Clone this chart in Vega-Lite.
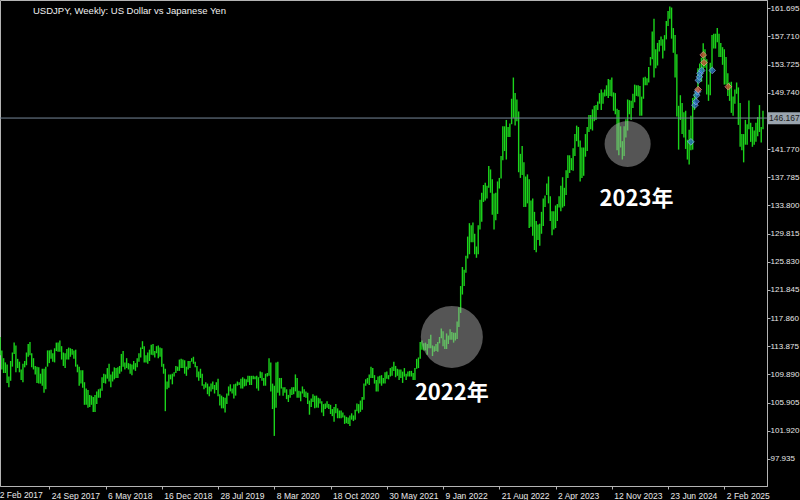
{
"$schema": "https://vega.github.io/schema/vega-lite/v6.json",
"autosize": {"type": "none"},
"width": 767,
"height": 486,
"padding": {"left": 0, "top": 0, "right": 33, "bottom": 14},
"background": "black",
"config": {
  "view": {"fill": "black", "stroke": "#b4b4b4", "strokeWidth": 1},
  "axis": {"grid": false, "domainColor": "#b4b4b4", "tickColor": "#b4b4b4", "labelColor": "#e8e8e8", "labelFont": "Liberation Sans", "labelFontSize": 8.5, "tickSize": 3, "title": null, "labelOverlap": false, "labelFlush": false, "labelBound": false}
},
"title": {"text": "USDJPY, Weekly:  US Dollar vs Japanese Yen", "anchor": "start", "frame": "group", "orient": "top", "offset": -12, "dx": 33, "dy": 11, "baseline": "alphabetic", "fontSize": 9.5, "font": "Liberation Sans", "fontWeight": "normal", "color": "#f0f0f0"},
"datasets": {
"one": [{"k": 1}],
"bars": [
{"d":"2017-03-05","h":115.5,"l":113.7},{"d":"2017-03-12","h":115.2,"l":112.6},{"d":"2017-03-19","h":113.3,"l":110.6},{"d":"2017-03-26","h":112.2,"l":110.1},
{"d":"2017-04-02","h":111.6,"l":110.1},{"d":"2017-04-09","h":111.3,"l":108.7},{"d":"2017-04-16","h":109.6,"l":108.1},{"d":"2017-04-23","h":111.8,"l":109.0},{"d":"2017-04-30","h":113.0,"l":111.0},
{"d":"2017-05-07","h":114.4,"l":112.8},{"d":"2017-05-14","h":114.0,"l":110.2},{"d":"2017-05-21","h":112.1,"l":110.8},{"d":"2017-05-28","h":111.7,"l":110.2},
{"d":"2017-06-04","h":110.6,"l":109.1},{"d":"2017-06-11","h":111.4,"l":108.8},{"d":"2017-06-18","h":111.8,"l":110.9},{"d":"2017-06-25","h":113.0,"l":111.2},
{"d":"2017-07-02","h":114.2,"l":112.4},{"d":"2017-07-09","h":114.5,"l":112.6},{"d":"2017-07-16","h":112.9,"l":110.9},{"d":"2017-07-23","h":112.2,"l":110.6},{"d":"2017-07-30","h":111.1,"l":109.9},
{"d":"2017-08-06","h":111.0,"l":108.7},{"d":"2017-08-13","h":110.9,"l":108.6},{"d":"2017-08-20","h":110.0,"l":108.6},{"d":"2017-08-27","h":110.7,"l":108.3},
{"d":"2017-09-03","h":110.7,"l":107.3},{"d":"2017-09-10","h":111.0,"l":107.8},{"d":"2017-09-17","h":113.3,"l":111.0},{"d":"2017-09-24","h":113.3,"l":111.5},
{"d":"2017-10-01","h":113.4,"l":112.1},{"d":"2017-10-08","h":112.9,"l":111.7},{"d":"2017-10-15","h":113.6,"l":111.6},{"d":"2017-10-22","h":114.4,"l":113.2},{"d":"2017-10-29","h":114.4,"l":113.1},
{"d":"2017-11-05","h":114.7,"l":113.1},{"d":"2017-11-12","h":113.9,"l":112.0},{"d":"2017-11-19","h":113.0,"l":111.1},{"d":"2017-11-26","h":112.9,"l":110.8},
{"d":"2017-12-03","h":113.5,"l":112.0},{"d":"2017-12-10","h":113.7,"l":112.0},{"d":"2017-12-17","h":113.6,"l":112.4},{"d":"2017-12-24","h":113.5,"l":112.7},{"d":"2017-12-31","h":113.3,"l":112.1},
{"d":"2018-01-07","h":113.4,"l":111.0},{"d":"2018-01-14","h":111.3,"l":110.2},{"d":"2018-01-21","h":111.0,"l":108.3},{"d":"2018-01-28","h":110.5,"l":108.6},
{"d":"2018-02-04","h":110.5,"l":108.0},{"d":"2018-02-11","h":108.8,"l":105.6},{"d":"2018-02-18","h":107.9,"l":105.6},{"d":"2018-02-25","h":107.7,"l":105.2},
{"d":"2018-03-04","h":107.0,"l":105.3},{"d":"2018-03-11","h":106.9,"l":105.6},{"d":"2018-03-18","h":106.7,"l":104.6},{"d":"2018-03-25","h":107.0,"l":104.6},
{"d":"2018-04-01","h":107.5,"l":105.7},{"d":"2018-04-08","h":107.8,"l":106.6},{"d":"2018-04-15","h":107.9,"l":106.6},{"d":"2018-04-22","h":109.5,"l":107.6},{"d":"2018-04-29","h":110.0,"l":108.7},
{"d":"2018-05-06","h":109.9,"l":108.6},{"d":"2018-05-13","h":110.8,"l":109.3},{"d":"2018-05-20","h":111.4,"l":108.9},{"d":"2018-05-27","h":109.9,"l":108.1},
{"d":"2018-06-03","h":110.3,"l":108.9},{"d":"2018-06-10","h":110.9,"l":109.2},{"d":"2018-06-17","h":110.8,"l":109.4},{"d":"2018-06-24","h":110.9,"l":109.4},
{"d":"2018-07-01","h":111.1,"l":110.0},{"d":"2018-07-08","h":112.8,"l":110.3},{"d":"2018-07-15","h":113.2,"l":111.0},{"d":"2018-07-22","h":111.6,"l":110.6},{"d":"2018-07-29","h":112.2,"l":110.8},
{"d":"2018-08-05","h":111.5,"l":110.6},{"d":"2018-08-12","h":111.4,"l":110.0},{"d":"2018-08-19","h":111.3,"l":109.8},{"d":"2018-08-26","h":111.8,"l":110.6},
{"d":"2018-09-02","h":111.5,"l":110.4},{"d":"2018-09-09","h":112.2,"l":110.9},{"d":"2018-09-16","h":112.9,"l":111.7},{"d":"2018-09-23","h":113.7,"l":112.3},{"d":"2018-09-30","h":114.6,"l":113.5},
{"d":"2018-10-07","h":113.9,"l":111.6},{"d":"2018-10-14","h":112.6,"l":111.6},{"d":"2018-10-21","h":113.0,"l":111.4},{"d":"2018-10-28","h":113.4,"l":111.8},
{"d":"2018-11-04","h":114.1,"l":112.7},{"d":"2018-11-11","h":114.2,"l":112.6},{"d":"2018-11-18","h":113.2,"l":112.3},{"d":"2018-11-25","h":113.9,"l":112.9},
{"d":"2018-12-02","h":114.0,"l":112.2},{"d":"2018-12-09","h":113.7,"l":112.4},{"d":"2018-12-16","h":113.6,"l":111.0},{"d":"2018-12-23","h":111.4,"l":110.0},{"d":"2018-12-30","h":110.7,"l":104.7},
{"d":"2019-01-06","h":108.9,"l":107.8},{"d":"2019-01-13","h":109.9,"l":108.0},{"d":"2019-01-20","h":109.9,"l":109.2},{"d":"2019-01-27","h":110.0,"l":108.5},
{"d":"2019-02-03","h":110.2,"l":109.6},{"d":"2019-02-10","h":111.1,"l":110.1},{"d":"2019-02-17","h":111.0,"l":110.4},{"d":"2019-02-24","h":112.0,"l":110.4},
{"d":"2019-03-03","h":112.1,"l":110.8},{"d":"2019-03-10","h":112.0,"l":110.8},{"d":"2019-03-17","h":111.9,"l":110.0},{"d":"2019-03-24","h":111.0,"l":109.7},{"d":"2019-03-31","h":111.8,"l":110.6},
{"d":"2019-04-07","h":111.8,"l":110.8},{"d":"2019-04-14","h":112.2,"l":111.7},{"d":"2019-04-21","h":112.4,"l":111.4},{"d":"2019-04-28","h":111.7,"l":110.9},
{"d":"2019-05-05","h":111.1,"l":109.5},{"d":"2019-05-12","h":110.3,"l":109.0},{"d":"2019-05-19","h":110.7,"l":109.4},{"d":"2019-05-26","h":110.0,"l":108.3},
{"d":"2019-06-02","h":108.5,"l":107.8},{"d":"2019-06-09","h":108.8,"l":108.0},{"d":"2019-06-16","h":108.6,"l":107.1},{"d":"2019-06-23","h":108.2,"l":106.8},{"d":"2019-06-30","h":108.6,"l":107.5},
{"d":"2019-07-07","h":108.9,"l":107.8},{"d":"2019-07-14","h":108.4,"l":107.2},{"d":"2019-07-21","h":108.8,"l":107.7},{"d":"2019-07-28","h":109.3,"l":106.8},
{"d":"2019-08-04","h":107.1,"l":105.5},{"d":"2019-08-11","h":106.9,"l":105.1},{"d":"2019-08-18","h":106.7,"l":105.1},{"d":"2019-08-25","h":106.6,"l":104.5},
{"d":"2019-09-01","h":107.2,"l":105.7},{"d":"2019-09-08","h":108.2,"l":106.9},{"d":"2019-09-15","h":108.5,"l":107.5},{"d":"2019-09-22","h":107.9,"l":107.2},{"d":"2019-09-29","h":108.5,"l":106.5},
{"d":"2019-10-06","h":108.6,"l":106.9},{"d":"2019-10-13","h":108.9,"l":108.3},{"d":"2019-10-20","h":108.8,"l":108.4},{"d":"2019-10-27","h":109.3,"l":107.9},
{"d":"2019-11-03","h":109.5,"l":107.9},{"d":"2019-11-10","h":109.3,"l":108.2},{"d":"2019-11-17","h":109.2,"l":108.3},{"d":"2019-11-24","h":109.7,"l":108.8},
{"d":"2019-12-01","h":109.7,"l":108.4},{"d":"2019-12-08","h":109.7,"l":108.4},{"d":"2019-12-15","h":109.7,"l":109.2},{"d":"2019-12-22","h":109.6,"l":109.2},{"d":"2019-12-29","h":109.7,"l":107.9},
{"d":"2020-01-05","h":109.5,"l":107.6},{"d":"2020-01-12","h":110.3,"l":109.4},{"d":"2020-01-19","h":110.2,"l":109.0},{"d":"2020-01-26","h":109.4,"l":108.3},
{"d":"2020-02-02","h":110.0,"l":108.3},{"d":"2020-02-09","h":110.1,"l":109.6},{"d":"2020-02-16","h":112.2,"l":109.7},{"d":"2020-02-23","h":111.6,"l":107.5},
{"d":"2020-03-01","h":108.6,"l":105.0},{"d":"2020-03-08","h":108.3,"l":101.2},{"d":"2020-03-15","h":111.6,"l":105.2},{"d":"2020-03-22","h":111.7,"l":107.3},{"d":"2020-03-29","h":109.4,"l":106.9},
{"d":"2020-04-05","h":109.4,"l":107.9},{"d":"2020-04-12","h":108.1,"l":106.9},{"d":"2020-04-19","h":108.1,"l":107.3},{"d":"2020-04-26","h":107.8,"l":106.4},
{"d":"2020-05-03","h":107.0,"l":106.0},{"d":"2020-05-10","h":107.8,"l":106.6},{"d":"2020-05-17","h":108.1,"l":107.0},{"d":"2020-05-24","h":108.1,"l":107.1},{"d":"2020-05-31","h":109.9,"l":107.5},
{"d":"2020-06-07","h":109.4,"l":106.6},{"d":"2020-06-14","h":107.6,"l":106.6},{"d":"2020-06-21","h":107.5,"l":106.1},{"d":"2020-06-28","h":108.2,"l":107.2},
{"d":"2020-07-05","h":107.8,"l":106.7},{"d":"2020-07-12","h":107.5,"l":106.6},{"d":"2020-07-19","h":107.3,"l":105.7},{"d":"2020-07-26","h":106.2,"l":104.2},
{"d":"2020-08-02","h":106.5,"l":105.3},{"d":"2020-08-09","h":107.1,"l":106.0},{"d":"2020-08-16","h":106.9,"l":105.1},{"d":"2020-08-23","h":106.9,"l":105.2},{"d":"2020-08-30","h":106.6,"l":105.2},
{"d":"2020-09-06","h":106.5,"l":105.8},{"d":"2020-09-13","h":106.1,"l":104.5},{"d":"2020-09-20","h":105.7,"l":104.0},{"d":"2020-09-27","h":105.8,"l":105.0},
{"d":"2020-10-04","h":106.1,"l":105.2},{"d":"2020-10-11","h":105.7,"l":105.0},{"d":"2020-10-18","h":105.6,"l":104.3},{"d":"2020-10-25","h":105.0,"l":104.0},
{"d":"2020-11-01","h":105.3,"l":103.2},{"d":"2020-11-08","h":105.7,"l":104.4},{"d":"2020-11-15","h":105.1,"l":103.7},{"d":"2020-11-22","h":104.8,"l":103.7},{"d":"2020-11-29","h":104.8,"l":103.7},
{"d":"2020-12-06","h":104.5,"l":103.8},{"d":"2020-12-13","h":104.1,"l":102.9},{"d":"2020-12-20","h":103.9,"l":103.0},{"d":"2020-12-27","h":103.8,"l":102.9},
{"d":"2021-01-03","h":104.1,"l":102.6},{"d":"2021-01-10","h":104.4,"l":103.5},{"d":"2021-01-17","h":104.1,"l":103.3},{"d":"2021-01-24","h":104.9,"l":103.5},{"d":"2021-01-31","h":105.8,"l":104.7},
{"d":"2021-02-07","h":105.7,"l":104.4},{"d":"2021-02-14","h":106.2,"l":104.6},{"d":"2021-02-21","h":106.7,"l":104.9},{"d":"2021-02-28","h":108.6,"l":106.3},
{"d":"2021-03-07","h":109.2,"l":108.3},{"d":"2021-03-14","h":109.4,"l":108.6},{"d":"2021-03-21","h":109.9,"l":108.4},{"d":"2021-03-28","h":111.0,"l":109.4},
{"d":"2021-04-04","h":110.8,"l":109.4},{"d":"2021-04-11","h":109.8,"l":108.6},{"d":"2021-04-18","h":109.1,"l":107.5},{"d":"2021-04-25","h":109.6,"l":107.5},
{"d":"2021-05-02","h":109.7,"l":108.6},{"d":"2021-05-09","h":109.8,"l":108.3},{"d":"2021-05-16","h":109.4,"l":108.6},{"d":"2021-05-23","h":110.2,"l":108.6},{"d":"2021-05-30","h":110.3,"l":109.3},
{"d":"2021-06-06","h":109.8,"l":109.2},{"d":"2021-06-13","h":110.8,"l":109.6},{"d":"2021-06-20","h":111.0,"l":109.7},{"d":"2021-06-27","h":111.7,"l":110.4},
{"d":"2021-07-04","h":111.1,"l":109.5},{"d":"2021-07-11","h":110.7,"l":109.7},{"d":"2021-07-18","h":110.6,"l":109.1},{"d":"2021-07-25","h":110.6,"l":109.4},
{"d":"2021-08-01","h":110.3,"l":108.7},{"d":"2021-08-08","h":110.8,"l":109.6},{"d":"2021-08-15","h":110.0,"l":109.1},{"d":"2021-08-22","h":110.3,"l":109.6},{"d":"2021-08-29","h":110.4,"l":109.6},
{"d":"2021-09-05","h":110.4,"l":109.6},{"d":"2021-09-12","h":110.1,"l":109.1},{"d":"2021-09-19","h":110.8,"l":109.1},{"d":"2021-09-26","h":112.1,"l":110.7},
{"d":"2021-10-03","h":112.3,"l":110.8},{"d":"2021-10-10","h":114.5,"l":112.1},{"d":"2021-10-17","h":114.7,"l":113.4},{"d":"2021-10-24","h":114.3,"l":113.3},{"d":"2021-10-31","h":114.4,"l":113.3},
{"d":"2021-11-07","h":114.2,"l":112.7},{"d":"2021-11-14","h":114.9,"l":113.6},{"d":"2021-11-21","h":115.5,"l":113.6},{"d":"2021-11-28","h":114.0,"l":112.5},
{"d":"2021-12-05","h":113.9,"l":113.1},{"d":"2021-12-12","h":114.2,"l":113.2},{"d":"2021-12-19","h":114.5,"l":113.1},{"d":"2021-12-26","h":115.2,"l":114.3},
{"d":"2022-01-02","h":116.4,"l":115.0},{"d":"2022-01-09","h":116.0,"l":113.9},{"d":"2022-01-16","h":114.8,"l":113.5},{"d":"2022-01-23","h":115.7,"l":113.5},{"d":"2022-01-30","h":115.4,"l":114.2},
{"d":"2022-02-06","h":116.3,"l":114.8},{"d":"2022-02-13","h":115.9,"l":114.8},{"d":"2022-02-20","h":115.8,"l":114.4},{"d":"2022-02-27","h":115.8,"l":114.7},
{"d":"2022-03-06","h":117.4,"l":114.9},{"d":"2022-03-13","h":119.4,"l":116.6},{"d":"2022-03-20","h":122.4,"l":118.6},{"d":"2022-03-27","h":125.1,"l":121.2},
{"d":"2022-04-03","h":124.7,"l":122.4},{"d":"2022-04-10","h":126.7,"l":124.3},{"d":"2022-04-17","h":129.4,"l":126.3},{"d":"2022-04-24","h":131.3,"l":126.9},
{"d":"2022-05-01","h":131.0,"l":128.6},{"d":"2022-05-08","h":131.4,"l":128.6},{"d":"2022-05-15","h":129.8,"l":126.9},{"d":"2022-05-22","h":128.0,"l":126.4},{"d":"2022-05-29","h":131.0,"l":126.9},
{"d":"2022-06-05","h":134.6,"l":130.4},{"d":"2022-06-12","h":135.6,"l":131.5},{"d":"2022-06-19","h":136.7,"l":134.3},{"d":"2022-06-26","h":137.0,"l":134.5},
{"d":"2022-07-03","h":136.6,"l":134.8},{"d":"2022-07-10","h":139.4,"l":136.3},{"d":"2022-07-17","h":138.9,"l":135.6},{"d":"2022-07-24","h":137.5,"l":132.5},{"d":"2022-07-31","h":135.5,"l":130.4},
{"d":"2022-08-07","h":135.6,"l":131.7},{"d":"2022-08-14","h":137.2,"l":132.6},{"d":"2022-08-21","h":137.7,"l":136.2},{"d":"2022-08-28","h":140.8,"l":137.6},
{"d":"2022-09-04","h":145.0,"l":140.2},{"d":"2022-09-11","h":145.0,"l":141.5},{"d":"2022-09-18","h":145.9,"l":140.3},{"d":"2022-09-25","h":144.9,"l":143.5},
{"d":"2022-10-02","h":145.4,"l":143.5},{"d":"2022-10-09","h":148.9,"l":145.3},{"d":"2022-10-16","h":151.9,"l":146.2},{"d":"2022-10-23","h":149.7,"l":145.1},{"d":"2022-10-30","h":148.8,"l":145.7},
{"d":"2022-11-06","h":147.1,"l":138.5},{"d":"2022-11-13","h":141.1,"l":137.7},{"d":"2022-11-20","h":142.2,"l":138.1},{"d":"2022-11-27","h":139.9,"l":133.6},
{"d":"2022-12-04","h":137.9,"l":133.6},{"d":"2022-12-11","h":138.2,"l":134.1},{"d":"2022-12-18","h":137.5,"l":130.6},{"d":"2022-12-25","h":134.5,"l":130.8},
{"d":"2023-01-01","h":134.8,"l":129.5},{"d":"2023-01-08","h":132.9,"l":127.5},{"d":"2023-01-15","h":131.6,"l":127.2},{"d":"2023-01-22","h":131.1,"l":128.9},{"d":"2023-01-29","h":131.2,"l":128.1},
{"d":"2023-02-05","h":132.9,"l":129.8},{"d":"2023-02-12","h":134.8,"l":130.9},{"d":"2023-02-19","h":135.2,"l":133.6},{"d":"2023-02-26","h":136.9,"l":135.3},
{"d":"2023-03-05","h":137.9,"l":134.1},{"d":"2023-03-12","h":135.1,"l":131.6},{"d":"2023-03-19","h":133.0,"l":129.6},{"d":"2023-03-26","h":133.0,"l":130.4},
{"d":"2023-04-02","h":133.8,"l":130.6},{"d":"2023-04-09","h":134.0,"l":131.6},{"d":"2023-04-16","h":135.1,"l":133.5},{"d":"2023-04-23","h":136.6,"l":133.0},{"d":"2023-04-30","h":137.8,"l":133.5},
{"d":"2023-05-07","h":136.3,"l":133.7},{"d":"2023-05-14","h":138.8,"l":135.3},{"d":"2023-05-21","h":140.9,"l":137.7},{"d":"2023-05-28","h":140.9,"l":138.4},
{"d":"2023-06-04","h":140.5,"l":138.8},{"d":"2023-06-11","h":141.9,"l":138.7},{"d":"2023-06-18","h":143.9,"l":140.8},{"d":"2023-06-25","h":145.1,"l":142.9},
{"d":"2023-07-02","h":144.9,"l":142.1},{"d":"2023-07-09","h":143.0,"l":137.2},{"d":"2023-07-16","h":142.0,"l":137.7},{"d":"2023-07-23","h":142.0,"l":138.0},{"d":"2023-07-30","h":143.9,"l":140.7},
{"d":"2023-08-06","h":144.9,"l":141.5},{"d":"2023-08-13","h":146.6,"l":144.2},{"d":"2023-08-20","h":146.6,"l":144.6},{"d":"2023-08-27","h":147.4,"l":144.4},
{"d":"2023-09-03","h":147.9,"l":145.7},{"d":"2023-09-10","h":148.0,"l":145.9},{"d":"2023-09-17","h":148.5,"l":147.3},{"d":"2023-09-24","h":149.7,"l":148.2},
{"d":"2023-10-01","h":150.2,"l":147.3},{"d":"2023-10-08","h":149.8,"l":148.2},{"d":"2023-10-15","h":150.2,"l":149.2},{"d":"2023-10-22","h":150.8,"l":149.3},{"d":"2023-10-29","h":151.7,"l":149.0},
{"d":"2023-11-05","h":151.6,"l":149.3},{"d":"2023-11-12","h":151.9,"l":149.2},{"d":"2023-11-19","h":149.8,"l":147.2},{"d":"2023-11-26","h":149.7,"l":146.7},
{"d":"2023-12-03","h":147.5,"l":141.6},{"d":"2023-12-10","h":147.3,"l":140.9},{"d":"2023-12-17","h":145.0,"l":142.0},{"d":"2023-12-24","h":142.9,"l":140.3},{"d":"2023-12-31","h":145.0,"l":140.8},
{"d":"2024-01-07","h":146.0,"l":143.4},{"d":"2024-01-14","h":148.8,"l":144.4},{"d":"2024-01-21","h":148.7,"l":146.7},{"d":"2024-01-28","h":148.6,"l":145.9},
{"d":"2024-02-04","h":149.6,"l":147.6},{"d":"2024-02-11","h":150.9,"l":148.4},{"d":"2024-02-18","h":150.8,"l":149.3},{"d":"2024-02-25","h":150.8,"l":149.2},
{"d":"2024-03-03","h":150.7,"l":146.5},{"d":"2024-03-10","h":149.2,"l":146.5},{"d":"2024-03-17","h":151.9,"l":148.9},{"d":"2024-03-24","h":152.0,"l":150.8},{"d":"2024-03-31","h":151.8,"l":150.8},
{"d":"2024-04-07","h":153.4,"l":151.2},{"d":"2024-04-14","h":154.8,"l":153.6},{"d":"2024-04-21","h":158.4,"l":154.5},{"d":"2024-04-28","h":160.2,"l":151.9},
{"d":"2024-05-05","h":155.9,"l":153.2},{"d":"2024-05-12","h":156.8,"l":153.6},{"d":"2024-05-19","h":157.2,"l":155.6},{"d":"2024-05-26","h":157.7,"l":156.4},
{"d":"2024-06-02","h":157.3,"l":154.6},{"d":"2024-06-09","h":157.9,"l":155.7},{"d":"2024-06-16","h":159.9,"l":157.3},{"d":"2024-06-23","h":161.3,"l":159.2},{"d":"2024-06-30","h":161.95,"l":160.2},
{"d":"2024-07-07","h":161.8,"l":157.4},{"d":"2024-07-14","h":158.9,"l":155.4},{"d":"2024-07-21","h":157.9,"l":151.9},{"d":"2024-07-28","h":155.2,"l":146.4},
{"d":"2024-08-04","h":147.9,"l":141.7},{"d":"2024-08-11","h":149.4,"l":145.9},{"d":"2024-08-18","h":148.3,"l":143.9},{"d":"2024-08-25","h":147.0,"l":143.4},
{"d":"2024-09-01","h":147.2,"l":141.8},{"d":"2024-09-08","h":143.1,"l":140.3},{"d":"2024-09-15","h":144.5,"l":139.6},{"d":"2024-09-22","h":146.5,"l":141.6},{"d":"2024-09-29","h":149.0,"l":141.7},
{"d":"2024-10-06","h":149.6,"l":147.3},{"d":"2024-10-13","h":150.3,"l":148.8},{"d":"2024-10-20","h":153.2,"l":149.4},{"d":"2024-10-27","h":153.9,"l":151.4},
{"d":"2024-11-03","h":154.7,"l":151.3},{"d":"2024-11-10","h":156.75,"l":152.7},{"d":"2024-11-17","h":155.9,"l":153.3},{"d":"2024-11-24","h":154.5,"l":149.5},
{"d":"2024-12-01","h":150.9,"l":148.6},{"d":"2024-12-08","h":154.0,"l":149.4},{"d":"2024-12-15","h":157.9,"l":152.8},{"d":"2024-12-22","h":158.1,"l":156.0},{"d":"2024-12-29","h":158.1,"l":156.0},
{"d":"2025-01-05","h":158.9,"l":156.9},{"d":"2025-01-12","h":158.1,"l":154.8},{"d":"2025-01-19","h":156.8,"l":154.8},{"d":"2025-01-26","h":156.2,"l":153.7},
{"d":"2025-02-02","h":155.9,"l":150.9},{"d":"2025-02-09","h":154.8,"l":150.9},{"d":"2025-02-16","h":152.5,"l":149.3},{"d":"2025-02-23","h":151.2,"l":148.6},
{"d":"2025-03-02","h":151.3,"l":146.9},{"d":"2025-03-09","h":149.2,"l":146.5},{"d":"2025-03-16","h":150.2,"l":148.2},{"d":"2025-03-23","h":151.2,"l":149.6},{"d":"2025-03-30","h":150.5,"l":145.2},
{"d":"2025-04-06","h":148.3,"l":142.1},{"d":"2025-04-13","h":143.9,"l":141.6},{"d":"2025-04-20","h":143.9,"l":139.9},{"d":"2025-04-27","h":145.9,"l":142.4},
{"d":"2025-05-04","h":145.3,"l":142.4},{"d":"2025-05-11","h":148.65,"l":144.6},{"d":"2025-05-18","h":145.5,"l":142.8},{"d":"2025-05-25","h":144.9,"l":142.1},
{"d":"2025-06-01","h":144.4,"l":142.4},{"d":"2025-06-08","h":145.5,"l":142.8},{"d":"2025-06-15","h":146.3,"l":143.6},{"d":"2025-06-22","h":148.0,"l":144.2},{"d":"2025-06-29","h":144.9,"l":142.7},
{"d":"2025-07-06","h":147.2,"l":144.6}
],
"trades": [
{"d":"2024-09-22","p":142.8,"s":"buy"},{"d":"2024-10-08","p":148.0,"s":"buy"},{"d":"2024-10-12","p":148.5,"s":"buy"},{"d":"2024-10-15","p":149.4,"s":"buy"},{"d":"2024-10-18","p":149.9,"s":"buy"},
{"d":"2024-10-22","p":151.5,"s":"buy"},{"d":"2024-10-26","p":152.0,"s":"buy"},{"d":"2024-10-28","p":152.5,"s":"buy"},{"d":"2024-11-04","p":152.9,"s":"buy"},
{"d":"2024-10-21","p":150.2,"s":"sell"},{"d":"2024-11-10","p":155.1,"s":"sell"},{"d":"2024-11-13","p":154.0,"s":"sell"},{"d":"2024-12-16","p":152.9,"s":"buy"},{"d":"2025-02-18","p":150.6,"s":"sell"}
],
"circles": [
{"d":"2022-02-13","p":115.2,"label":"2022年"},
{"d":"2024-01-14","p":142.5,"label":"2023年"}
],
"labels": [
{"d":"2022-02-13","p":107.3,"label":"2022年"},
{"d":"2024-02-18","p":134.7,"label":"2023年"}
]
},
"encoding": {
  "y": {"type": "quantitative",
    "scale": {"domain": [94.115, 162.869], "nice": false, "zero": false},
    "axis": {"orient": "right", "values": [97.935,101.92,105.905,109.89,113.875,117.86,121.845,125.83,129.815,133.8,137.785,141.77,145.755,149.74,153.725,157.71,161.695],
      "format": ".3f", "labelFontSize": 8, "labelAlign": "left", "labelBaseline": "middle", "labelPadding": 0, "labelOverlap": false, "labelFlush": false, "labelBound": false}
  }
},
"layer": [
  {"data": {"name": "bars"}, "mark": {"type": "rule", "color": "#1bd41b", "strokeWidth": 1.4, "clip": true},
   "encoding": {
     "x": {"field": "d", "type": "temporal",
       "scale": {"type": "utc", "domain": [1489248000000, 1753142400000]},
       "axis": {"orient": "bottom", "values": [
         {"year":2017,"month":"Feb","date":12,"utc":true},{"year":2017,"month":"Sep","date":24,"utc":true},{"year":2018,"month":"May","date":6,"utc":true},{"year":2018,"month":"Dec","date":16,"utc":true},
         {"year":2019,"month":"Jul","date":28,"utc":true},{"year":2020,"month":"Mar","date":8,"utc":true},{"year":2020,"month":"Oct","date":18,"utc":true},{"year":2021,"month":"May","date":30,"utc":true},
         {"year":2022,"month":"Jan","date":9,"utc":true},{"year":2022,"month":"Aug","date":21,"utc":true},{"year":2023,"month":"Apr","date":2,"utc":true},{"year":2023,"month":"Nov","date":12,"utc":true},
         {"year":2024,"month":"Jun","date":23,"utc":true},{"year":2025,"month":"Feb","date":2,"utc":true}],
         "labelExpr": "utcFormat(datum.value, '%-d %b %Y')", "labelAlign": "left", "labelBaseline": "top", "labelOffset": 2, "labelPadding": 2, "labelOverlap": false, "labelFlush": false, "labelBound": false}},
     "y": {"field": "l"}, "y2": {"field": "h"}}},
  {"data": {"name": "circles"},
   "mark": {"type": "circle", "color": "#aaaaaa", "opacity": 0.5},
   "encoding": {"x": {"field": "d", "type": "temporal"}, "y": {"field": "p"},
     "size": {"field": "label", "type": "nominal", "scale": {"domain": ["2022年", "2023年"], "range": [3848, 2124]}, "legend": null}}},
  {"data": {"name": "one"}, "mark": {"type": "rule", "color": "#778899", "strokeWidth": 1},
   "encoding": {"y": {"datum": 146.167}}},
  {"data": {"name": "trades"},
   "mark": {"type": "point", "shape": "diamond", "size": 45, "filled": true, "strokeWidth": 1},
   "encoding": {"x": {"field": "d", "type": "temporal"}, "y": {"field": "p"},
     "fill": {"field": "s", "type": "nominal", "scale": {"domain": ["buy", "sell"], "range": ["#2f72d8", "#e24c3a"]}, "legend": null},
     "stroke": {"field": "s", "type": "nominal", "scale": {"domain": ["buy", "sell"], "range": ["#8fb8f5", "#f5a898"]}, "legend": null}}},
  {"data": {"name": "labels"},
   "mark": {"type": "text", "font": "Noto Sans CJK JP", "fontWeight": "bold", "fontSize": 22, "color": "white", "align": "center", "baseline": "middle"},
   "encoding": {"x": {"field": "d", "type": "temporal"}, "y": {"field": "p"}, "text": {"field": "label"}}},
  {"data": {"name": "one"}, "mark": {"type": "rect", "color": "#9aa4ae", "clip": false},
   "encoding": {"x": {"datum": 1753142400000, "type": "temporal"}, "x2": {"datum": 1765324800000},
     "y": {"datum": 147.0}, "y2": {"datum": 145.3}}},
  {"data": {"name": "one"}, "mark": {"type": "text", "font": "Liberation Sans", "fontSize": 8.5, "color": "#1a1a1a", "align": "left", "baseline": "middle", "dx": 2, "clip": false},
   "encoding": {"x": {"datum": 1753142400000, "type": "temporal"}, "y": {"datum": 146.167}, "text": {"value": "146.167"}}},
  {"data": {"name": "one"}, "mark": {"type": "text", "font": "Liberation Sans", "fontSize": 8.5, "color": "#e8e8e8", "align": "left", "baseline": "top", "dx": 2, "clip": false},
   "encoding": {"x": {"datum": 1486857600000, "type": "temporal"}, "y": {"datum": 93.41}, "text": {"value": "12 Feb 2017"}}}
]
}
